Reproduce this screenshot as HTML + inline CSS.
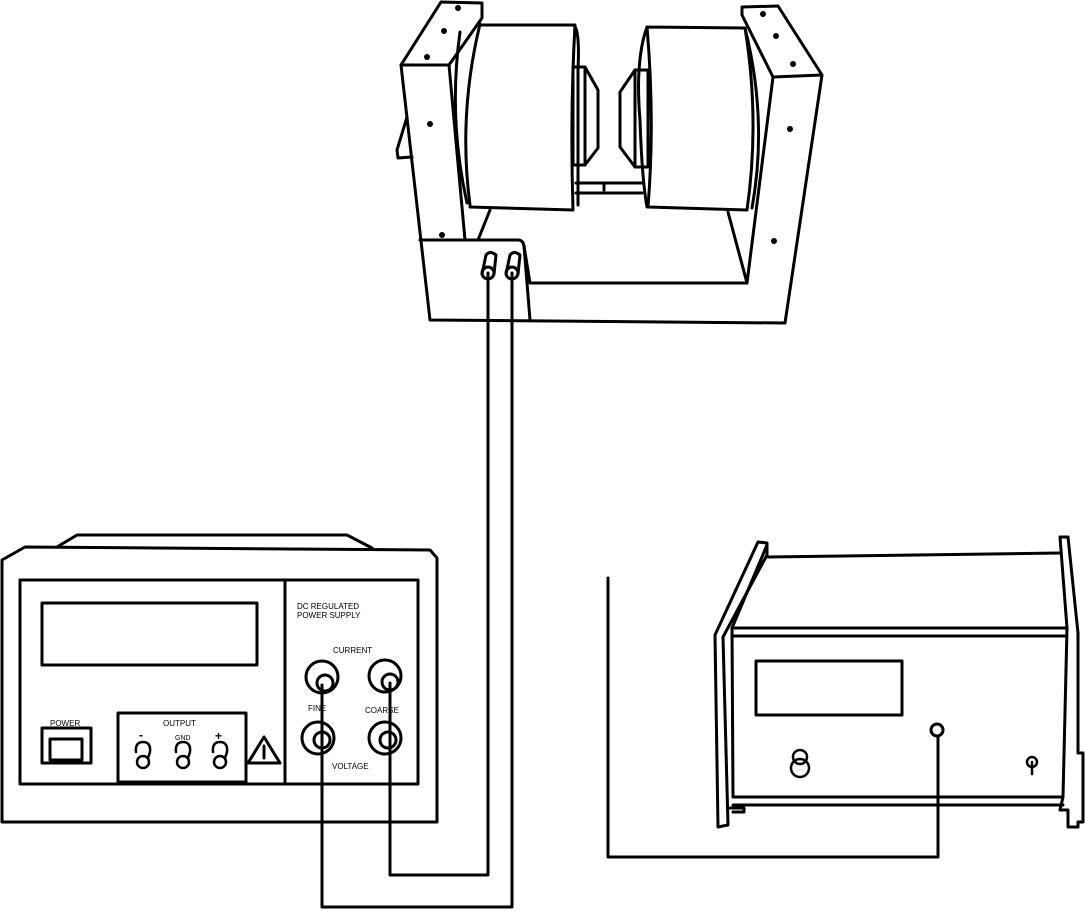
<!DOCTYPE html>
<html><head><meta charset="utf-8"><style>
html,body{margin:0;padding:0;background:#fff;}
svg{display:block;}
text{font-family:"Liberation Sans",sans-serif;fill:#000;}
</style></head><body>
<svg width="1085" height="911" viewBox="0 0 1085 911" xmlns="http://www.w3.org/2000/svg">
<g fill="none" stroke="#000" stroke-width="3" stroke-linejoin="round" stroke-linecap="round">
<!-- Magnet -->
<path d="M407,117 L397,150 L398,158 L412,157"/>
<path d="M401,65 L441,2 L482,3 L482,18 L449,65 Z"/>
<path d="M401,65 L430,320 L785,323 L822,75 L778,6 L742,7 L742,15 L773,77 L747,283"/>
<path d="M773,77 L822,75"/>
<path d="M449,65 L465,240"/>
<path d="M420,240 L518,240 Q523,240 524,246 L530,283 L747,283"/>
<path d="M524,246 L530,320"/>
<path d="M490,210 L478,240"/>
<path d="M728,212 L747,283"/>
<!-- left coil -->
<path d="M460,32 Q448,118 467,203"/>
<path d="M480,24 Q458,115 470,205"/>
<path d="M480,25 L575,25 Q570,115 573,210 L470,207"/>
<path d="M573,25 Q580,27 578,70 L578,205"/>
<rect x="573" y="67" width="12" height="98"/>
<path d="M585,67 L598,90 L598,148 L585,165"/>
<!-- right coil -->
<path d="M647,27 Q635,60 640,120 Q642,180 647,207"/>
<path d="M647,27 L745,28 Q760,120 747,210 L648,207 Q655,120 647,27"/>
<path d="M745,28 Q768,120 752,208"/>
<rect x="635" y="70" width="13" height="97"/>
<path d="M635,70 L620,92 L620,147 L635,167"/>
<path d="M576,183 L642,183 M576,193 L642,193 M604,183 L604,190"/>
<!-- connectors -->
<path d="M482,274 L486,255 Q490,250 496,255 L494,274"/>
<path d="M506,274 L510,255 Q514,250 520,255 L518,274"/>
<circle cx="488" cy="273" r="6"/>
<circle cx="512" cy="273" r="6"/>
<!-- wires -->
<path d="M488,273 L488,875 L390,875 L390,683"/>
<path d="M512,273 L512,907 L322,907 L322,685"/>
<path d="M608,578 L608,857 L938,857 L938,736"/>
<!-- Power supply -->
<path d="M57,547 L77,535 L347,535 L372,548"/>
<path d="M2,822 L2,560 L25,547 L430,550 L437,558 L437,822 Z"/>
<rect x="20" y="580" width="398" height="204"/>
<path d="M285,580 L285,784"/>
<rect x="42" y="603" width="215" height="62"/>
<circle cx="322" cy="677" r="16"/>
<circle cx="325" cy="683" r="8"/>
<circle cx="385" cy="676" r="16"/>
<circle cx="390" cy="682" r="8"/>
<circle cx="318" cy="738" r="16"/>
<circle cx="322" cy="740" r="8"/>
<circle cx="385" cy="738" r="16"/>
<circle cx="388" cy="740" r="8"/>
<rect x="42" y="728" width="49" height="35"/>
<rect x="50" y="739" width="32" height="21"/>
<rect x="118" y="713" width="128" height="69"/>
<g stroke-width="2.5">
<path d="M136,752 Q135,742 143,742 Q151,742 150,752 L148,758"/><circle cx="143" cy="762" r="6"/>
<path d="M176,752 Q175,742 183,742 Q191,742 190,752 L188,758"/><circle cx="183" cy="762" r="6"/>
<path d="M213,752 Q212,742 220,742 Q228,742 227,752 L225,758"/><circle cx="220" cy="762" r="6"/>
</g>
<path d="M248,763 L280,763 L264,737 Z"/>
<path d="M264,746 L264,757" stroke-width="3"/>
<!-- Right instrument -->
<path d="M768,557 L1060,553"/>
<path d="M767,545 L732,628"/>
<path d="M732,628 L1065,628 M732,636 L1066,636"/>
<path d="M732,628 L733,797 L1063,797 L1067,628"/>
<path d="M733,805 L1063,805"/>
<path d="M758,542 L767,543 L767,555 L723,637 L728,825 L718,827 L715,635 Z"/>
<path d="M1060,537 L1068,537 L1078,633 L1078,753 L1083,753 L1083,822 L1078,822 L1078,827 L1068,827 L1068,810 L1060,810 L1063,797 M1060,537 L1067,628"/>
<path d="M728,808 L744,808 L744,812 L733,812"/>
<rect x="756" y="661" width="146" height="54"/>
<circle cx="937" cy="730" r="6"/>
<circle cx="800" cy="757" r="7" stroke-width="2.5"/>
<circle cx="800" cy="768" r="9" stroke-width="2.5"/>
<circle cx="1032" cy="762" r="5" stroke-width="2.5"/>
<path d="M1032,762 L1032,774" stroke-width="2.5"/>
</g>
<g fill="#000" stroke="none">
<circle cx="458" cy="8" r="3"/><circle cx="444" cy="31" r="3"/><circle cx="427" cy="57" r="3"/>
<circle cx="430" cy="124" r="3"/><circle cx="442" cy="235" r="3"/>
<circle cx="763" cy="14" r="3"/><circle cx="776" cy="36" r="3"/><circle cx="793" cy="64" r="3"/>
<circle cx="790" cy="129" r="3"/><circle cx="774" cy="241" r="3"/>
<circle cx="264" cy="758" r="1.5"/>
</g>
<g font-size="8">
<text x="297" y="609">DC REGULATED</text>
<text x="297" y="618">POWER SUPPLY</text>
<text x="333" y="653">CURRENT</text>
<text x="308" y="711">FINE</text>
<text x="365" y="713">COARSE</text>
<text x="332" y="769">VOLTAGE</text>
<text x="50" y="726">POWER</text>
<text x="163" y="726">OUTPUT</text>
<text x="175" y="740" font-size="7">GND</text>
<text x="139" y="739" font-size="12" font-weight="bold">-</text>
<text x="215" y="740" font-size="12" font-weight="bold">+</text>
</g>
</svg>
</body></html>
